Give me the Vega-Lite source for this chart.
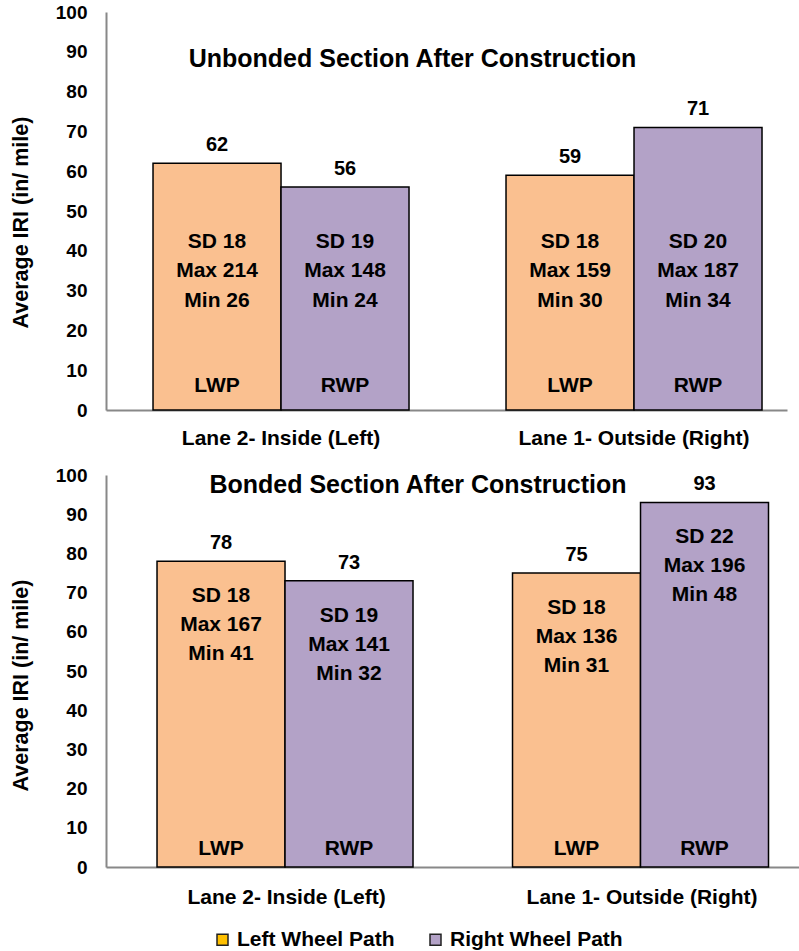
{
  "$schema": "https://vega.github.io/schema/vega-lite/v6.json",
  "background": "white",
  "padding": {"left": 10, "top": 3, "right": 0, "bottom": 0},
  "config": {
    "view": {"stroke": null},
    "font": "Liberation Sans",
    "text": {"font": "Liberation Sans", "fontWeight": "bold", "color": "#000"},
    "axisY": {
      "title": "Average IRI (in/ mile)",
      "values": [0, 10, 20, 30, 40, 50, 60, 70, 80, 90, 100],
      "labelOverlap": false,
      "grid": false,
      "ticks": false,
      "labelFontSize": 19,
      "labelFontWeight": "bold",
      "labelColor": "#000",
      "labelPadding": 19,
      "domainColor": "#888",
      "domainWidth": 2,
      "titleFontSize": 21.5,
      "titleFontWeight": "bold",
      "titleColor": "#000",
      "titlePadding": 23,
      "titleY": 210
    }
  },
  "data": {
    "values": [
      {"section": "Unbonded", "lane": "Lane 2- Inside (Left)", "path": "Left Wheel Path", "code": "LWP", "value": 62, "stats": ["SD 18", "Max 214", "Min 26"]},
      {"section": "Unbonded", "lane": "Lane 2- Inside (Left)", "path": "Right Wheel Path", "code": "RWP", "value": 56, "stats": ["SD 19", "Max 148", "Min 24"]},
      {"section": "Unbonded", "lane": "Lane 1- Outside (Right)", "path": "Left Wheel Path", "code": "LWP", "value": 59, "stats": ["SD 18", "Max 159", "Min 30"]},
      {"section": "Unbonded", "lane": "Lane 1- Outside (Right)", "path": "Right Wheel Path", "code": "RWP", "value": 71, "stats": ["SD 20", "Max 187", "Min 34"]},
      {"section": "Bonded", "lane": "Lane 2- Inside (Left)", "path": "Left Wheel Path", "code": "LWP", "value": 78, "stats": ["SD 18", "Max 167", "Min 41"]},
      {"section": "Bonded", "lane": "Lane 2- Inside (Left)", "path": "Right Wheel Path", "code": "RWP", "value": 73, "stats": ["SD 19", "Max 141", "Min 32"]},
      {"section": "Bonded", "lane": "Lane 1- Outside (Right)", "path": "Left Wheel Path", "code": "LWP", "value": 75, "stats": ["SD 18", "Max 136", "Min 31"]},
      {"section": "Bonded", "lane": "Lane 1- Outside (Right)", "path": "Right Wheel Path", "code": "RWP", "value": 93, "stats": ["SD 22", "Max 196", "Min 48"]}
    ]
  },
  "spacing": 18,
  "vconcat": [
    {
      "width": 681,
      "height": 398,
      "transform": [{"filter": "datum.section === 'Unbonded'"}],
      "title": {
        "text": "Unbonded Section After Construction",
        "frame": "group",
        "anchor": "middle",
        "baseline": "alphabetic",
        "offset": -89,
        "dx": -34,
        "fontSize": 25,
        "fontWeight": "bold",
        "color": "#000"
      },
      "encoding": {
        "x": {
          "field": "lane",
          "type": "nominal",
          "sort": ["Lane 2- Inside (Left)", "Lane 1- Outside (Right)"],
          "scale": {"paddingInner": 0.2748, "paddingOuter": 0.102, "align": 0.653},
          "axis": {
            "title": null,
            "labelAngle": 0,
            "labelFontSize": 21,
            "labelFontWeight": "bold",
            "labelColor": "#000",
            "labelPadding": 17,
            "labelLimit": 400,
            "ticks": false,
            "domainColor": "#888",
            "domainWidth": 2
          }
        },
        "xOffset": {
          "field": "path",
          "type": "nominal",
          "sort": ["Left Wheel Path", "Right Wheel Path"],
          "scale": {"paddingInner": 0, "paddingOuter": 0}
        }
      },
      "layer": [
        {
          "mark": {"type": "bar", "stroke": "#000", "strokeWidth": 1.5},
          "encoding": {
            "y": {"field": "value", "type": "quantitative", "scale": {"domain": [0, 100]}, "title": "Average IRI (in/ mile)"},
            "color": {
              "field": "path",
              "type": "nominal",
              "sort": ["Left Wheel Path", "Right Wheel Path"],
              "scale": {"range": ["#FAC090", "#B3A2C7"]},
              "legend": null
            }
          }
        },
        {
          "mark": {"type": "text", "baseline": "alphabetic", "dy": -12, "fontSize": 20},
          "encoding": {
            "y": {"field": "value", "type": "quantitative", "title": "Average IRI (in/ mile)"},
            "text": {"field": "value", "type": "quantitative"}
          }
        },
        {
          "mark": {"type": "text", "baseline": "top", "fontSize": 21, "lineHeight": 29.5},
          "encoding": {
            "y": {"datum": 45, "type": "quantitative", "title": "Average IRI (in/ mile)"},
            "text": {"field": "stats"}
          }
        },
        {
          "mark": {"type": "text", "baseline": "alphabetic", "dy": -18, "fontSize": 21},
          "encoding": {
            "y": {"datum": 0, "type": "quantitative", "title": "Average IRI (in/ mile)"},
            "text": {"field": "code"}
          }
        }
      ]
    },
    {
      "width": 694,
      "height": 392,
      "transform": [{"filter": "datum.section === 'Bonded'"}],
      "title": {
        "text": "Bonded Section After Construction",
        "frame": "group",
        "anchor": "middle",
        "baseline": "alphabetic",
        "offset": -52,
        "dx": -35,
        "fontSize": 25,
        "fontWeight": "bold",
        "color": "#000"
      },
      "encoding": {
        "x": {
          "field": "lane",
          "type": "nominal",
          "sort": ["Lane 2- Inside (Left)", "Lane 1- Outside (Right)"],
          "scale": {"paddingInner": 0.271, "paddingOuter": 0.1116, "align": 0.643},
          "axis": {
            "title": null,
            "labelAngle": 0,
            "labelFontSize": 21,
            "labelFontWeight": "bold",
            "labelColor": "#000",
            "labelPadding": 19,
            "labelLimit": 400,
            "ticks": false,
            "domainColor": "#888",
            "domainWidth": 2
          }
        },
        "xOffset": {
          "field": "path",
          "type": "nominal",
          "sort": ["Left Wheel Path", "Right Wheel Path"],
          "scale": {"paddingInner": 0, "paddingOuter": 0}
        }
      },
      "layer": [
        {
          "mark": {"type": "bar", "stroke": "#000", "strokeWidth": 1.5},
          "encoding": {
            "y": {"field": "value", "type": "quantitative", "scale": {"domain": [0, 100]}, "title": "Average IRI (in/ mile)"},
            "color": {
              "field": "path",
              "type": "nominal",
              "sort": ["Left Wheel Path", "Right Wheel Path"],
              "scale": {"range": ["#FAC090", "#B3A2C7"]},
              "legend": null
            }
          }
        },
        {
          "mark": {"type": "text", "baseline": "alphabetic", "dy": -12, "fontSize": 20},
          "encoding": {
            "y": {"field": "value", "type": "quantitative", "title": "Average IRI (in/ mile)"},
            "text": {"field": "value", "type": "quantitative"}
          }
        },
        {
          "mark": {"type": "text", "baseline": "top", "dy": 24, "fontSize": 21, "lineHeight": 29},
          "encoding": {
            "y": {"field": "value", "type": "quantitative", "title": "Average IRI (in/ mile)"},
            "text": {"field": "stats"}
          }
        },
        {
          "mark": {"type": "text", "baseline": "alphabetic", "dy": -12, "fontSize": 21},
          "encoding": {
            "y": {"datum": 0, "type": "quantitative", "title": "Average IRI (in/ mile)"},
            "text": {"field": "code"}
          }
        },
        {
          "mark": {"type": "square", "opacity": 0},
          "encoding": {
            "y": {"field": "value", "type": "quantitative", "title": "Average IRI (in/ mile)"},
            "fill": {
              "field": "path",
              "type": "nominal",
              "sort": ["Left Wheel Path", "Right Wheel Path"],
              "scale": {"range": ["#FFC000", "#B3A2C7"]},
              "legend": {
                "title": null,
                "orient": "none",
                "direction": "horizontal",
                "legendX": 106,
                "legendY": 917,
                "symbolType": "square",
                "symbolSize": 121,
                "symbolOpacity": 1,
                "symbolStrokeColor": "#222",
                "symbolStrokeWidth": 1.5,
                "labelFontSize": 21,
                "labelFontWeight": "bold",
                "labelColor": "#000",
                "labelOffset": 4,
                "labelLimit": 300,
                "columnPadding": 30
              }
            }
          }
        }
      ]
    }
  ]
}
